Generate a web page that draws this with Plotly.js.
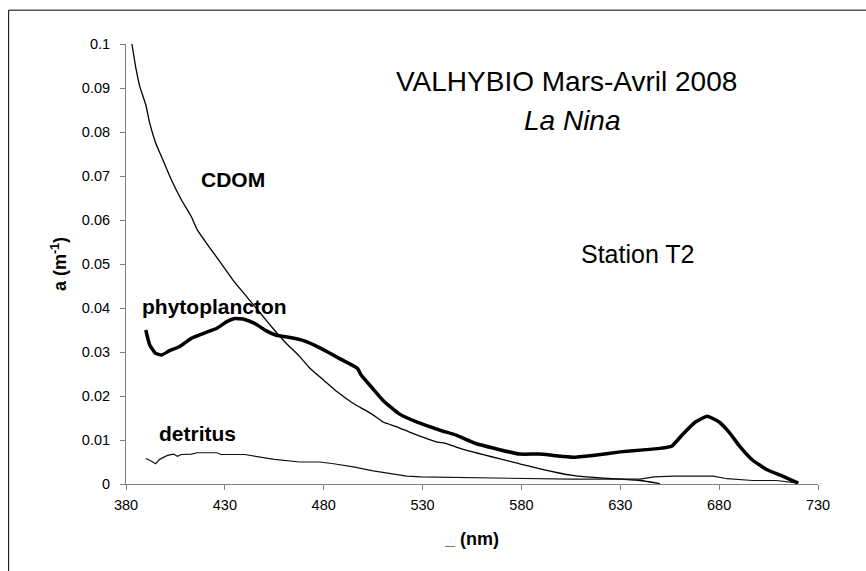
<!DOCTYPE html>
<html>
<head>
<meta charset="utf-8">
<script src="https://cdn.plot.ly/plotly-3.0.1.min.js"></script>
<style>
html,body{margin:0;padding:0;background:#fff;}
#chart{width:866px;height:571px;}
</style>
</head>
<body>
<div id="chart"></div>
<script>
// Wavelengths (nm) and absorption values (m^-1)
const cdomNm = [383,385,387,390,392,395,399,403,408,413,416,422,428,434,441,448,455,461,468,473,480,487,495,504,510,517,525,537,542,551,579,589,599,605,613,630,640,650];
const cdomA  = [0.1000,0.0945,0.0903,0.0862,0.0820,0.0775,0.0733,0.0691,0.0646,0.0608,0.0578,0.0539,0.0502,0.0464,0.0426,0.0388,0.0350,0.0320,0.0289,0.0263,0.0236,0.0209,0.0183,0.0160,0.0141,0.0130,0.0115,0.0096,0.0092,0.0078,0.0046,0.0035,0.0025,0.0020,0.0016,0.0011,0.0008,0.0001];

const phytoNm = [390,392,395,398,402,407,413,419,426,431,435,440,445,451,456,463,469,475,482,488,497,499,504,510,518,527,539,547,557,569,579,589,596,606,616,630,640,650,656,662,668,674,680,685,690,697,704,711,716,720];
const phytoA  = [0.0350,0.0316,0.0297,0.0293,0.0303,0.0312,0.0331,0.0342,0.0354,0.0369,0.0376,0.0374,0.0365,0.0348,0.0338,0.0333,0.0327,0.0316,0.0300,0.0285,0.0263,0.0247,0.0221,0.0190,0.0160,0.0141,0.0122,0.0111,0.0092,0.0078,0.0068,0.0068,0.0065,0.0061,0.0065,0.0073,0.0077,0.0081,0.0086,0.0115,0.0141,0.0154,0.0141,0.0118,0.0088,0.0054,0.0033,0.0020,0.0010,0.0002];

const detNm = [390,392,395,397,401,404,406,408,413,416,426,428,440,448,455,468,478,485,495,505,514,522,529,544,579,605,640,647,657,677,684,697,709,714,720];
const detA  = [0.0058,0.0054,0.0046,0.0056,0.0065,0.0068,0.0063,0.0067,0.0068,0.0071,0.0071,0.0067,0.0067,0.0061,0.0056,0.0050,0.0050,0.0046,0.0039,0.0030,0.0024,0.0018,0.0016,0.0015,0.0012,0.0011,0.0011,0.0016,0.0018,0.0018,0.0012,0.0008,0.0008,0.0005,0.0002];

const seriesNames = ['CDOM','phytoplancton','detritus'];
const chartTitle = 'VALHYBIO Mars-Avril 2008';
const chartSubtitle = 'La Nina';
const stationLabel = 'Station T2';
const xTitle = '_ (nm)';
const yTitle = 'a (m<sup>-1</sup>)';

const FONT = 'Liberation Sans, Arial, sans-serif';

const traces = [
  {x: cdomNm, y: cdomA, name: seriesNames[0], mode: 'lines', line: {color: '#000', width: 1.3, shape: 'spline', smoothing: 0.4}},
  {x: phytoNm, y: phytoA, name: seriesNames[1], mode: 'lines', line: {color: '#000', width: 3.5, shape: 'spline', smoothing: 0.4}},
  {x: detNm, y: detA, name: seriesNames[2], mode: 'lines', line: {color: '#111', width: 1.2}}
];

const axisCommon = {
  showline: true, linecolor: '#808080', linewidth: 1,
  ticks: 'outside', ticklen: 5, tickcolor: '#808080', tickwidth: 1,
  showgrid: false, zeroline: false,
  tickfont: {family: FONT, size: 14.5, color: '#000'}
};

const layout = {
  width: 866, height: 571,
  margin: {l: 125.5, r: 47.5, t: 44.3, b: 87.3},
  paper_bgcolor: '#fff', plot_bgcolor: '#fff',
  showlegend: false,
  font: {family: FONT, color: '#000'},
  xaxis: Object.assign({}, axisCommon, {
    range: [380, 730], tick0: 380, dtick: 50, ticklabelstandoff: 3,
    title: {text: xTitle, font: {family: FONT, size: 18, color: '#000', weight: 'bold'}, standoff: 19}
  }),
  yaxis: Object.assign({}, axisCommon, {
    range: [0, 0.1], tick0: 0, dtick: 0.01, ticklabelstandoff: 7,
    title: {text: yTitle, font: {family: FONT, size: 18, color: '#000', weight: 'bold'}, standoff: 10}
  }),
  annotations: [
    {text: chartTitle, x: 603, y: 0.0915, xref: 'x', yref: 'y', xanchor: 'center', yanchor: 'middle', showarrow: false, font: {family: FONT, size: 28, color: '#000'}},
    {text: '<i>' + chartSubtitle + '</i>', x: 606, y: 0.0827, xref: 'x', yref: 'y', xanchor: 'center', yanchor: 'middle', showarrow: false, font: {family: FONT, size: 28, color: '#000'}},
    {text: stationLabel, x: 639, y: 0.0523, xref: 'x', yref: 'y', xanchor: 'center', yanchor: 'middle', showarrow: false, font: {family: FONT, size: 25, color: '#000'}},
    {text: '<b>' + seriesNames[0] + '</b>', x: 434, y: 0.0693, xref: 'x', yref: 'y', xanchor: 'center', yanchor: 'middle', showarrow: false, font: {family: FONT, size: 21, color: '#000'}},
    {text: '<b>' + seriesNames[1] + '</b>', x: 425, y: 0.0403, xref: 'x', yref: 'y', xanchor: 'center', yanchor: 'middle', showarrow: false, font: {family: FONT, size: 21, color: '#000'}},
    {text: '<b>' + seriesNames[2] + '</b>', x: 416, y: 0.0115, xref: 'x', yref: 'y', xanchor: 'center', yanchor: 'middle', showarrow: false, font: {family: FONT, size: 21, color: '#000'}}
  ],
  shapes: [
    {type: 'rect', xref: 'paper', yref: 'paper', x0: -0.1696, y0: -0.25, x1: 1.1, y1: 1.0769, line: {color: '#000', width: 1}, fillcolor: 'rgba(0,0,0,0)', layer: 'below'}
  ]
};

Plotly.newPlot('chart', traces, layout, {staticPlot: true, displayModeBar: false});
</script>
</body>
</html>
